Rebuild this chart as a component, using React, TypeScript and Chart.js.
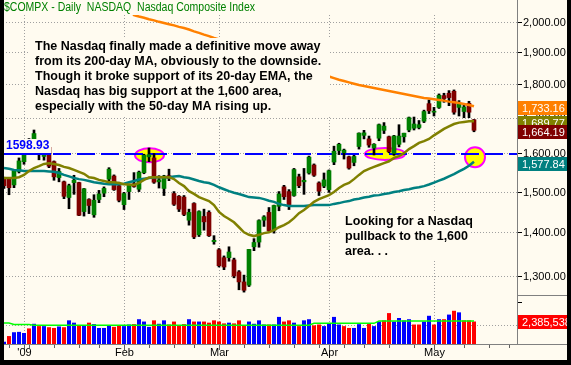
import React, { useEffect, useRef } from "react";
import { Chart, registerables } from "chart.js";

Chart.register(...registerables);

// ---------- DATA ----------
const dates = [
  "12/26", "12/29", "12/30", "12/31",
  "1/2", "1/5", "1/6", "1/7", "1/8", "1/9", "1/12", "1/13", "1/14", "1/15", "1/16", "1/20", "1/21", "1/22", "1/23", "1/26", "1/27", "1/28", "1/29", "1/30",
  "2/2", "2/3", "2/4", "2/5", "2/6", "2/9", "2/10", "2/11", "2/12", "2/13", "2/17", "2/18", "2/19", "2/20", "2/23", "2/24", "2/25", "2/26", "2/27",
  "3/2", "3/3", "3/4", "3/5", "3/6", "3/9", "3/10", "3/11", "3/12", "3/13", "3/16", "3/17", "3/18", "3/19", "3/20", "3/23", "3/24", "3/25", "3/26", "3/27", "3/30", "3/31",
  "4/1", "4/2", "4/3", "4/6", "4/7", "4/8", "4/9", "4/13", "4/14", "4/15", "4/16", "4/17", "4/20", "4/21", "4/22", "4/23", "4/24", "4/27", "4/28", "4/29", "4/30",
  "5/1", "5/4", "5/5", "5/6", "5/7", "5/8", "5/11", "5/12", "5/13",
];

const opens = [
  1534, 1532, 1517, 1552,
  1578, 1621, 1640, 1630, 1592, 1617, 1578, 1536, 1525, 1485, 1523, 1523, 1450, 1480, 1442, 1480, 1496, 1532, 1540, 1515,
  1467, 1500, 1520, 1506, 1549, 1591, 1588, 1525, 1508, 1541, 1495, 1488, 1486, 1429, 1470, 1394, 1438, 1448, 1378,
  1359, 1341, 1341, 1336, 1309, 1287, 1280, 1366, 1377, 1429, 1448, 1405, 1463, 1512, 1500, 1490, 1538, 1525, 1548, 1569, 1522, 1514,
  1505, 1577, 1608, 1602, 1591, 1576, 1619, 1650, 1640, 1615, 1642, 1664, 1646, 1600, 1625, 1646, 1665, 1670, 1672, 1690, 1741,
  1716, 1730, 1765, 1772, 1778, 1730, 1718, 1742, 1694,
];
const highs = [
  1537, 1535, 1556, 1588,
  1636, 1641, 1665, 1631, 1617, 1620, 1580, 1560, 1527, 1519, 1542, 1524, 1508, 1482, 1492, 1503, 1512, 1562, 1543, 1524,
  1498, 1519, 1549, 1553, 1598, 1615, 1600, 1541, 1542, 1558, 1500, 1490, 1490, 1456, 1472, 1452, 1456, 1452, 1392,
  1362, 1345, 1366, 1340, 1312, 1302, 1360, 1385, 1430, 1440, 1460, 1466, 1500, 1516, 1505, 1560, 1545, 1560, 1593, 1572, 1525, 1548,
  1556, 1620, 1628, 1612, 1593, 1595, 1657, 1664, 1648, 1627, 1682, 1686, 1648, 1650, 1680, 1656, 1702, 1702, 1692, 1722, 1752,
  1730, 1770, 1772, 1780, 1782, 1750, 1740, 1748, 1695,
];
const lows = [
  1508, 1492, 1510, 1548,
  1571, 1614, 1632, 1583, 1582, 1562, 1529, 1525, 1482, 1457, 1493, 1440, 1439, 1445, 1436, 1472, 1487, 1528, 1503, 1474,
  1455, 1480, 1511, 1500, 1546, 1578, 1521, 1509, 1490, 1528, 1465, 1450, 1440, 1417, 1385, 1390, 1405, 1390, 1372,
  1320, 1314, 1333, 1296, 1270, 1265, 1277, 1357, 1365, 1414, 1400, 1398, 1452, 1480, 1455, 1488, 1510, 1493, 1545, 1539, 1490, 1510,
  1498, 1570, 1597, 1585, 1558, 1567, 1612, 1640, 1617, 1596, 1635, 1655, 1602, 1595, 1618, 1631, 1660, 1665, 1668, 1686, 1712,
  1705, 1727, 1745, 1735, 1710, 1705, 1700, 1700, 1660,
];
const closes = [
  1515, 1510, 1553, 1580,
  1632, 1628, 1655, 1604, 1615, 1566, 1538, 1552, 1488, 1515, 1529, 1441, 1507, 1465, 1478, 1494, 1508, 1558, 1505, 1478,
  1495, 1516, 1513, 1550, 1595, 1597, 1524, 1530, 1540, 1534, 1468, 1456, 1443, 1448, 1389, 1450, 1425, 1392, 1381,
  1323, 1320, 1354, 1300, 1287, 1269, 1360, 1376, 1428, 1437, 1404, 1465, 1494, 1487, 1464, 1557, 1515, 1529, 1590, 1542, 1501, 1530,
  1554, 1606, 1625, 1609, 1561, 1592, 1656, 1657, 1623, 1625, 1680, 1676, 1605, 1648, 1648, 1656, 1700, 1682, 1680, 1718, 1720,
  1719, 1766, 1756, 1759, 1716, 1739, 1731, 1716, 1664.19,
];

const ema20 = [
  1535, 1535, 1535, 1537, 1543, 1553, 1561, 1566, 1572, 1574,
  1572, 1569, 1564, 1561, 1556, 1551, 1546, 1537, 1535, 1530,
  1527, 1524, 1524, 1522, 1519, 1518, 1517, 1522, 1530, 1536,
  1537, 1537, 1537, 1537, 1532, 1522, 1514, 1501, 1494, 1486,
  1481, 1476, 1466, 1449, 1439, 1432, 1424, 1412, 1400, 1394,
  1391, 1394, 1398, 1400, 1405, 1412, 1417, 1424, 1434, 1446,
  1454, 1464, 1474, 1481, 1486, 1491, 1499, 1509, 1517, 1522,
  1532, 1543, 1553, 1559, 1564, 1569, 1574, 1579, 1588, 1593,
  1601, 1612, 1620, 1629, 1634, 1640, 1650, 1659, 1668, 1675,
  1682, 1686, 1688, 1690, 1689.77,
];
const sma50 = [
  1561, 1559, 1556, 1555, 1553, 1553, 1553, 1553, 1553, 1552,
  1551, 1548, 1543, 1539, 1535, 1532, 1530, 1527, 1524, 1522,
  1520, 1519, 1519, 1519, 1520, 1524, 1527, 1531, 1533, 1535,
  1536, 1537, 1537, 1537, 1539, 1540, 1537, 1535, 1531, 1527,
  1524, 1522, 1517, 1511, 1506, 1501, 1497, 1494, 1490, 1486,
  1485, 1484, 1481, 1477, 1474, 1469, 1466, 1464, 1464, 1464,
  1464, 1465, 1466, 1466, 1466, 1466, 1469, 1471, 1474, 1476,
  1480, 1482, 1485, 1487, 1490, 1491, 1494, 1496, 1499, 1501,
  1504, 1506, 1509, 1511, 1514, 1518, 1523, 1528, 1533, 1539,
  1545, 1552, 1559, 1567, 1577.84,
];
const sma200 = [
  null, null, null, null, null, null, null, null, null, null,
  null, null, null, null, null, null, null, null, null, null,
  null, null, 2090, 2075, 2060, 2045, 2023, 2018, 2014, 2009,
  2005, 2000, 1996, 1992, 1988, 1983, 1979, 1974, 1968, 1963,
  1957, 1952, 1946, 1941, 1935, 1930, 1924, 1919, 1914, 1908,
  1903, 1897, 1892, 1887, 1881, 1876, 1870, 1865, 1859, 1854,
  1849, 1844, 1838, 1833, 1828, 1823, 1818, 1813, 1809, 1805,
  1801, 1797, 1794, 1791, 1788, 1785, 1782, 1779, 1776, 1773,
  1770, 1767, 1764, 1761, 1758, 1756, 1754, 1752, 1750, 1747,
  1745, 1743, 1740, 1737, 1733.16,
];

const volumes = [
  210000, 820000, 1230000, 1270000, 1150000, 1640000, 2140000, 1890000, 1890000, 1770000,
  1690000, 1850000, 1770000, 2510000, 2260000, 1970000, 1970000, 2260000, 2100000, 1690000,
  1690000, 1970000, 1810000, 1970000, 1890000, 2060000, 2100000, 2630000, 2380000, 1810000,
  2510000, 2140000, 2510000, 2060000, 2380000, 1970000, 2100000, 2630000, 2380000, 2380000,
  2380000, 2260000, 2510000, 2380000, 2180000, 2260000, 2180000, 2510000, 1970000, 2380000,
  2140000, 2510000, 2060000, 2060000, 2060000, 2880000, 2380000, 2510000, 2260000, 1890000,
  2510000, 2630000, 1970000, 2060000, 1890000, 2220000, 2880000, 2060000, 1890000, 1690000,
  1690000, 2100000, 1690000, 2180000, 1890000, 2380000, 2510000, 3290000, 2380000, 2760000,
  2510000, 2630000, 2060000, 2060000, 2380000, 3000000, 2060000, 2630000, 2630000, 3130000,
  3540000, 3370000, 2510000, 2510000, 2385538,
];
const volumeAvg = [
  2260000, 2260000, 2100000, 2100000, 2100000, 2100000, 2010000, 2010000, 2010000, 2010000,
  2010000, 2010000, 2010000, 2010000, 2010000, 2010000, 2010000, 2010000, 2010000, 2010000,
  2010000, 2010000, 2010000, 2010000, 2010000, 2010000, 2010000, 2010000, 2010000, 2010000,
  2010000, 2010000, 2010000, 2010000, 2010000, 2010000, 2010000, 2010000, 2010000, 2010000,
  2010000, 2010000, 2010000, 2010000, 2010000, 2010000, 2010000, 2010000, 2010000, 2010000,
  2010000, 2010000, 2010000, 2010000, 2010000, 2010000, 2010000, 2010000, 2010000, 2010000,
  2010000, 2010000, 2220000, 2220000, 2220000, 2220000, 2220000, 2220000, 2220000, 2220000,
  2220000, 2220000, 2220000, 2220000, 2220000, 2470000, 2470000, 2470000, 2470000, 2470000,
  2470000, 2470000, 2470000, 2470000, 2470000, 2470000, 2470000, 2470000, 2470000, 2470000,
  2470000, 2470000, 2470000, 2470000, 2470000,
];

const priceTicks = [1300, 1400, 1500, 1600, 1700, 1800, 1900, 2000];
const volumeTicks = [2000000];
const monthTickIdx = [4, 24, 43, 65, 86];
const monthTickLabels = ["'09", "Feb", "Mar", "Apr", "May"];
const weekTickIdx = [1, 5, 10, 15, 19, 29, 34, 38, 48, 53, 58, 63, 68, 72, 77, 82, 92, 97, 101];
const supportLevel = 1598.93;

const titleText = "$COMPX - Daily  NASDAQ  Nasdaq Composite Index";
const noteLines1 = [
  "The Nasdaq finally made a definitive move away",
  "from its 200-day MA, obviously to the downside.",
  "Though it broke support of its 20-day EMA, the",
  "Nasdaq has big support at the 1,600 area,",
  "especially with the 50-day MA rising up.",
];
const noteLines2 = ["Looking for a Nasdaq", "pullback to the 1,600", "area. . ."];

// highlight marks: index on the time axis, price level, pixel radii
const highlights = [
  { i: 29.1, v: 1595, rx: 14.5, ry: 7 },
  { i: 76.2, v: 1598.93, rx: 20, ry: 6 },
  { i: 94.2, v: 1590, rx: 10, ry: 10 },
];

// ---------- STYLE ----------
const W = 571;
const H = 365;
const CREAM = "#FFFBF0";
const GRID = "#A0A0A0";
const AXIS = "#808080";
const FONT = '"Liberation Sans", Arial, sans-serif';
const ORANGE = "#FF8000";
const OLIVE = "#808000";
const TEAL = "#008080";
const UPC = "#008000";
const DNC = "#800000";

const fmtPrice = (v: number) =>
  v.toLocaleString("en-US", { minimumFractionDigits: 2, maximumFractionDigits: 2 });
const fmtVol = (v: number) => Math.round(v).toLocaleString("en-US");

const decor = {
  id: "decor",
  beforeDraw(chart: any) {
    const { ctx } = chart;
    ctx.save();
    ctx.fillStyle = CREAM;
    ctx.fillRect(0, 0, chart.width, chart.height);
    ctx.restore();
  },
  beforeDatasetsDraw(chart: any) {
    const { ctx, chartArea: ca, scales } = chart;
    const { x, y, yv } = scales;
    ctx.save();
    ctx.strokeStyle = GRID;
    ctx.lineWidth = 1;
    ctx.setLineDash([1, 2]);
    for (const v of priceTicks) {
      const py = Math.round(y.getPixelForValue(v)) + 0.5;
      ctx.beginPath();
      ctx.moveTo(ca.left, py);
      ctx.lineTo(ca.right, py);
      ctx.stroke();
    }
    for (const v of volumeTicks) {
      const py = Math.round(yv.getPixelForValue(v)) + 0.5;
      ctx.beginPath();
      ctx.moveTo(ca.left, py);
      ctx.lineTo(ca.right, py);
      ctx.stroke();
    }
    for (const i of monthTickIdx) {
      const px = Math.round(x.getPixelForValue(i)) + 0.5;
      ctx.beginPath();
      ctx.moveTo(px, ca.top);
      ctx.lineTo(px, ca.bottom);
      ctx.stroke();
    }
    ctx.setLineDash([]);
    for (const h of highlights) {
      const cx = x.getPixelForValue(h.i);
      const cy = y.getPixelForValue(h.v);
      ctx.beginPath();
      ctx.ellipse(cx, cy, h.rx, h.ry, 0, 0, Math.PI * 2);
      ctx.fillStyle = "#FFFF00";
      ctx.fill();
      ctx.lineWidth = 2;
      ctx.strokeStyle = "#FF00FF";
      ctx.stroke();
    }
    const sy = Math.round(y.getPixelForValue(supportLevel));
    ctx.strokeStyle = "#0000FF";
    ctx.lineWidth = 2;
    ctx.setLineDash([18, 6]);
    ctx.lineDashOffset = -5;
    ctx.beginPath();
    ctx.moveTo(0, sy);
    ctx.lineTo(ca.right, sy);
    ctx.stroke();
    ctx.restore();
  },
  afterDatasetsDraw(chart: any) {
    const { ctx, chartArea: ca, scales } = chart;
    const { x, y, yv } = scales;
    ctx.save();

    // annotation blocks (opaque)
    ctx.fillStyle = CREAM;
    ctx.fillRect(28, 38, 302, 77);
    ctx.fillRect(342, 213, 128, 47);
    ctx.fillStyle = "#000000";
    ctx.font = `bold 12.5px ${FONT}`;
    ctx.textBaseline = "middle";
    ctx.textAlign = "left";
    noteLines1.forEach((t, k) => ctx.fillText(t, 35, 47 + 15 * k));
    noteLines2.forEach((t, k) => ctx.fillText(t, 345, 222 + 15 * k));

    // support label
    const sy = Math.round(y.getPixelForValue(supportLevel));
    ctx.fillStyle = CREAM;
    ctx.fillRect(4, sy - 15, 47, 14);
    ctx.fillStyle = "#0000FF";
    ctx.fillRect(4, sy - 1, 47, 2);
    ctx.font = `bold 12px ${FONT}`;
    ctx.fillText(fmtPrice(supportLevel).replace(",", ""), 6, sy - 8);

    // right panel
    ctx.fillStyle = CREAM;
    ctx.fillRect(ca.right, 0, W - ca.right, ca.bottom);
    ctx.strokeStyle = AXIS;
    ctx.lineWidth = 1;
    ctx.beginPath();
    ctx.moveTo(ca.right + 0.5, 0);
    ctx.lineTo(ca.right + 0.5, ca.bottom);
    ctx.stroke();
    ctx.beginPath();
    ctx.moveTo(ca.right, 295.5);
    ctx.lineTo(W, 295.5);
    ctx.stroke();

    ctx.font = `11px ${FONT}`;
    ctx.fillStyle = "#000000";
    ctx.strokeStyle = "#000000";
    for (const v of priceTicks) {
      const py = Math.round(y.getPixelForValue(v)) + 0.5;
      ctx.beginPath();
      ctx.moveTo(ca.right + 1, py);
      ctx.lineTo(ca.right + 5, py);
      ctx.stroke();
      ctx.fillText(fmtPrice(v), ca.right + 6, py);
    }
    ctx.beginPath();
    ctx.moveTo(ca.right + 1, 302.5);
    ctx.lineTo(ca.right + 5, 302.5);
    ctx.stroke();

    const n = closes.length;
    const boxes = [
      { v: sma200[n - 1] as number, c: ORANGE, ax: y, f: fmtPrice, d: 2 },
      { v: ema20[n - 1], c: OLIVE, ax: y, f: fmtPrice, d: 2 },
      { v: closes[n - 1], c: DNC, ax: y, f: fmtPrice, d: 2 },
      { v: sma50[n - 1], c: TEAL, ax: y, f: fmtPrice, d: 2 },
      { v: volumes[n - 1], c: "#FF0000", ax: yv, f: fmtVol, d: 0 },
    ];
    for (const b of boxes) {
      const py = Math.round(b.ax.getPixelForValue(b.v)) + b.d;
      ctx.fillStyle = b.c;
      ctx.fillRect(ca.right + 1, py - 7, W - ca.right, 14);
      ctx.fillStyle = "#FFFFFF";
      ctx.fillText(b.f(b.v), ca.right + 5, py + 0.5);
    }

    // bottom time axis
    ctx.strokeStyle = AXIS;
    ctx.beginPath();
    ctx.moveTo(0, ca.bottom + 0.5);
    ctx.lineTo(W, ca.bottom + 0.5);
    ctx.stroke();
    ctx.strokeStyle = "#606060";
    for (const i of weekTickIdx) {
      const px = Math.round(x.getPixelForValue(i)) + 0.5;
      ctx.beginPath();
      ctx.moveTo(px, ca.bottom + 1);
      ctx.lineTo(px, ca.bottom + 4);
      ctx.stroke();
    }
    ctx.fillStyle = "#000000";
    ctx.textAlign = "center";
    monthTickIdx.forEach((i, k) => {
      const px = Math.round(x.getPixelForValue(i)) + 0.5;
      ctx.beginPath();
      ctx.moveTo(px, ca.bottom + 1);
      ctx.lineTo(px, ca.bottom + 6);
      ctx.stroke();
      ctx.fillText(monthTickLabels[k], px, ca.bottom + 9);
    });

    // title
    ctx.textAlign = "left";
    ctx.fillStyle = "#008000";
    ctx.font = `12px ${FONT}`;
    ctx.fillText(titleText, 4, 8, 251);

    // frame
    ctx.fillStyle = "#000000";
    ctx.fillRect(0, 0, 4, H);
    ctx.fillRect(567, 0, 4, H);
    ctx.fillRect(0, 360, W, 5);
    ctx.restore();
  },
};

export default function App() {
  const ref = useRef<HTMLCanvasElement>(null);
  useEffect(() => {
    document.body.style.margin = "0";
    const canvas = ref.current;
    if (!canvas) return;
    const idx = closes.map((_, i) => i);
    const bodyColors = idx.map((i) => (closes[i] >= opens[i] ? UPC : DNC));
    const volColors = idx.map((i) => (i === 0 || closes[i] >= closes[i - 1] ? "#0000FF" : "#FF0000"));
    const line = (arr: (number | null)[]) => arr.map((v, i) => ({ x: i, y: v }));

    const chart = new Chart(canvas, {
      type: "bar",
      data: {
        labels: dates,
        datasets: [
          { type: "line", label: "200-day MA", data: line(sma200), borderColor: ORANGE, borderWidth: 2.5, pointRadius: 0, yAxisID: "y", order: 1, spanGaps: false } as any,
          { type: "line", label: "20-day EMA", data: line(ema20), borderColor: OLIVE, borderWidth: 2.5, pointRadius: 0, yAxisID: "y", order: 2 } as any,
          { type: "line", label: "50-day MA", data: line(sma50), borderColor: TEAL, borderWidth: 2.5, pointRadius: 0, yAxisID: "y", order: 3 } as any,
          { type: "bar", label: "body", data: idx.map((i) => ({ x: i, y: [opens[i], closes[i]] })), backgroundColor: bodyColors, barThickness: 4, minBarLength: 1, grouped: false, yAxisID: "y", order: 5 } as any,
          { type: "bar", label: "wick", data: idx.map((i) => ({ x: i, y: [lows[i], highs[i]] })), backgroundColor: "#000000", barThickness: 2, grouped: false, yAxisID: "y", order: 6 } as any,
          { type: "line", label: "avg volume", data: line(volumeAvg), borderColor: "#00FF00", borderWidth: 1.5, pointRadius: 0, yAxisID: "yv", order: 4 } as any,
          { type: "bar", label: "volume", data: idx.map((i) => ({ x: i, y: volumes[i] })), backgroundColor: volColors, barThickness: 3.4, grouped: false, yAxisID: "yv", order: 7 } as any,
        ],
      },
      options: {
        animation: false,
        responsive: false,
        maintainAspectRatio: false,
        layout: { padding: { left: 0, right: 54, top: 15, bottom: 21 } },
        plugins: { legend: { display: false }, tooltip: { enabled: false } },
        scales: {
          x: { type: "linear", min: -0.8, max: 102.6, offset: false, bounds: "data", display: false },
          y: { type: "logarithmic", min: 1158.5, max: 2023.3, bounds: "data", display: false },
          yv: { type: "linear", min: 0, max: 35400000, bounds: "data", display: false, beginAtZero: true },
        },
      } as any,
      plugins: [decor],
    });
    return () => chart.destroy();
  }, []);
  return <canvas ref={ref} width={W} height={H} style={{ display: "block", width: W, height: H }} />;
}
